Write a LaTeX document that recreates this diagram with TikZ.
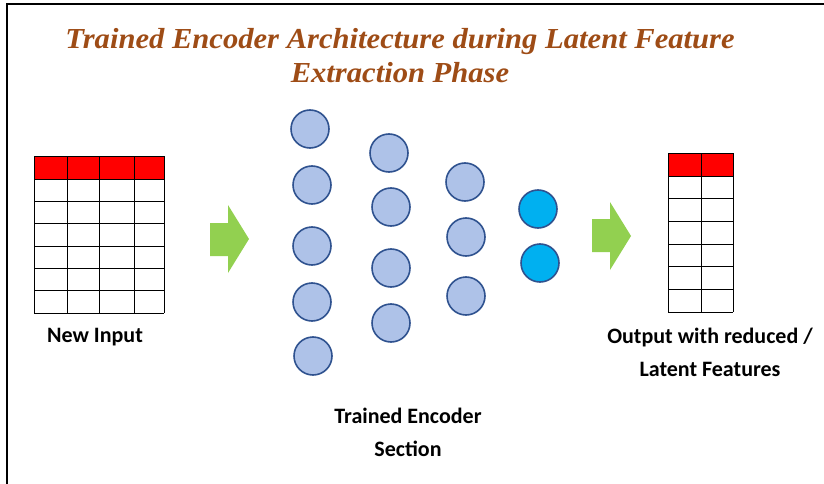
\documentclass[tikz,border=0pt]{standalone}
\usepackage{fontspec}
\newfontfamily\labelfont{Carlito}
\newfontfamily\titlefont{Liberation Serif}
\usepackage{tikz}
\usetikzlibrary{calc,positioning}
\definecolor{titlebrown}{RGB}{158,76,22}
\definecolor{nodefill}{RGB}{174,194,232}
\definecolor{nodeline}{RGB}{47,82,143}
\definecolor{latentfill}{RGB}{0,176,240}
\definecolor{arrowgreen}{RGB}{146,208,80}
\definecolor{headred}{RGB}{255,0,0}

\begin{document}
\begin{tikzpicture}[x=1pt,y=-1pt,
    neuron/.style={circle, draw=nodeline, line width=1.6pt, fill=nodefill, minimum size=38pt, inner sep=0pt},
    latent/.style={neuron, fill=latentfill},
    caption/.style={font=\labelfont\bfseries\fontsize{22}{33}\selectfont, align=center, text=black},
    gridline/.style={line width=1pt, draw=black}]
    \useasboundingbox (0,0) rectangle (824,484);

    % Рамка
    \draw[line width=2.2pt] (7,484) -- (7,4) -- (824,4);

    % Заголовок
    \node[font=\titlefont\bfseries\itshape\fontsize{29}{34}\selectfont, text=titlebrown, align=center, xscale=1.055] (title) at (400,56)
        {Trained Encoder Architecture during Latent Feature\\Extraction Phase};

    % Вхідна таблиця
    \fill[headred] (34,156) rectangle (164,179);
    \foreach \y in {156,179,201.3,223.7,246,268.3,290.7,313}
        \draw[gridline] (34,\y) -- (164,\y);
    \foreach \x in {34,67,99,134,164}
        \draw[gridline] (\x,156) -- (\x,313);
    \node[caption] (inlabel) at (95,337) {New Input};

    % Стрілка 1
    \fill[arrowgreen] (210,223) -- (228,223) -- (228,205) -- (249,239) -- (228,273) -- (228,256) -- (210,256) -- cycle;

    % Шари кодувальника
    \foreach \x/\y [count=\i] in {310/129,312/185,312/246,312/302,313/356}
        \node[neuron] (a\i) at (\x,\y) {};
    \foreach \x/\y [count=\i] in {389/153,391/207,391/268,391/323}
        \node[neuron] (b\i) at (\x,\y) {};
    \foreach \x/\y [count=\i] in {465/182,466/237,466/296}
        \node[neuron] (c\i) at (\x,\y) {};
    \foreach \x/\y [count=\i] in {538/209,540/263}
        \node[latent] (d\i) at (\x,\y) {};
    \node[caption] (enclabel) at (408,432) {Trained Encoder\\Section};

    % Стрілка 2
    \fill[arrowgreen] (592,219) -- (610,219) -- (610,202) -- (631,236) -- (610,270) -- (610,252) -- (592,252) -- cycle;

    % Вихідна таблиця
    \fill[headred] (668,153) rectangle (733,176);
    \foreach \y in {153,176,198.7,221.3,244,266.7,289.3,312}
        \draw[gridline] (668,\y) -- (733,\y);
    \foreach \x in {668,701,733}
        \draw[gridline] (\x,153) -- (\x,312);
    \node[caption] (outlabel) at (710,352) {Output with reduced /\\Latent Features};
\end{tikzpicture}
\end{document}
